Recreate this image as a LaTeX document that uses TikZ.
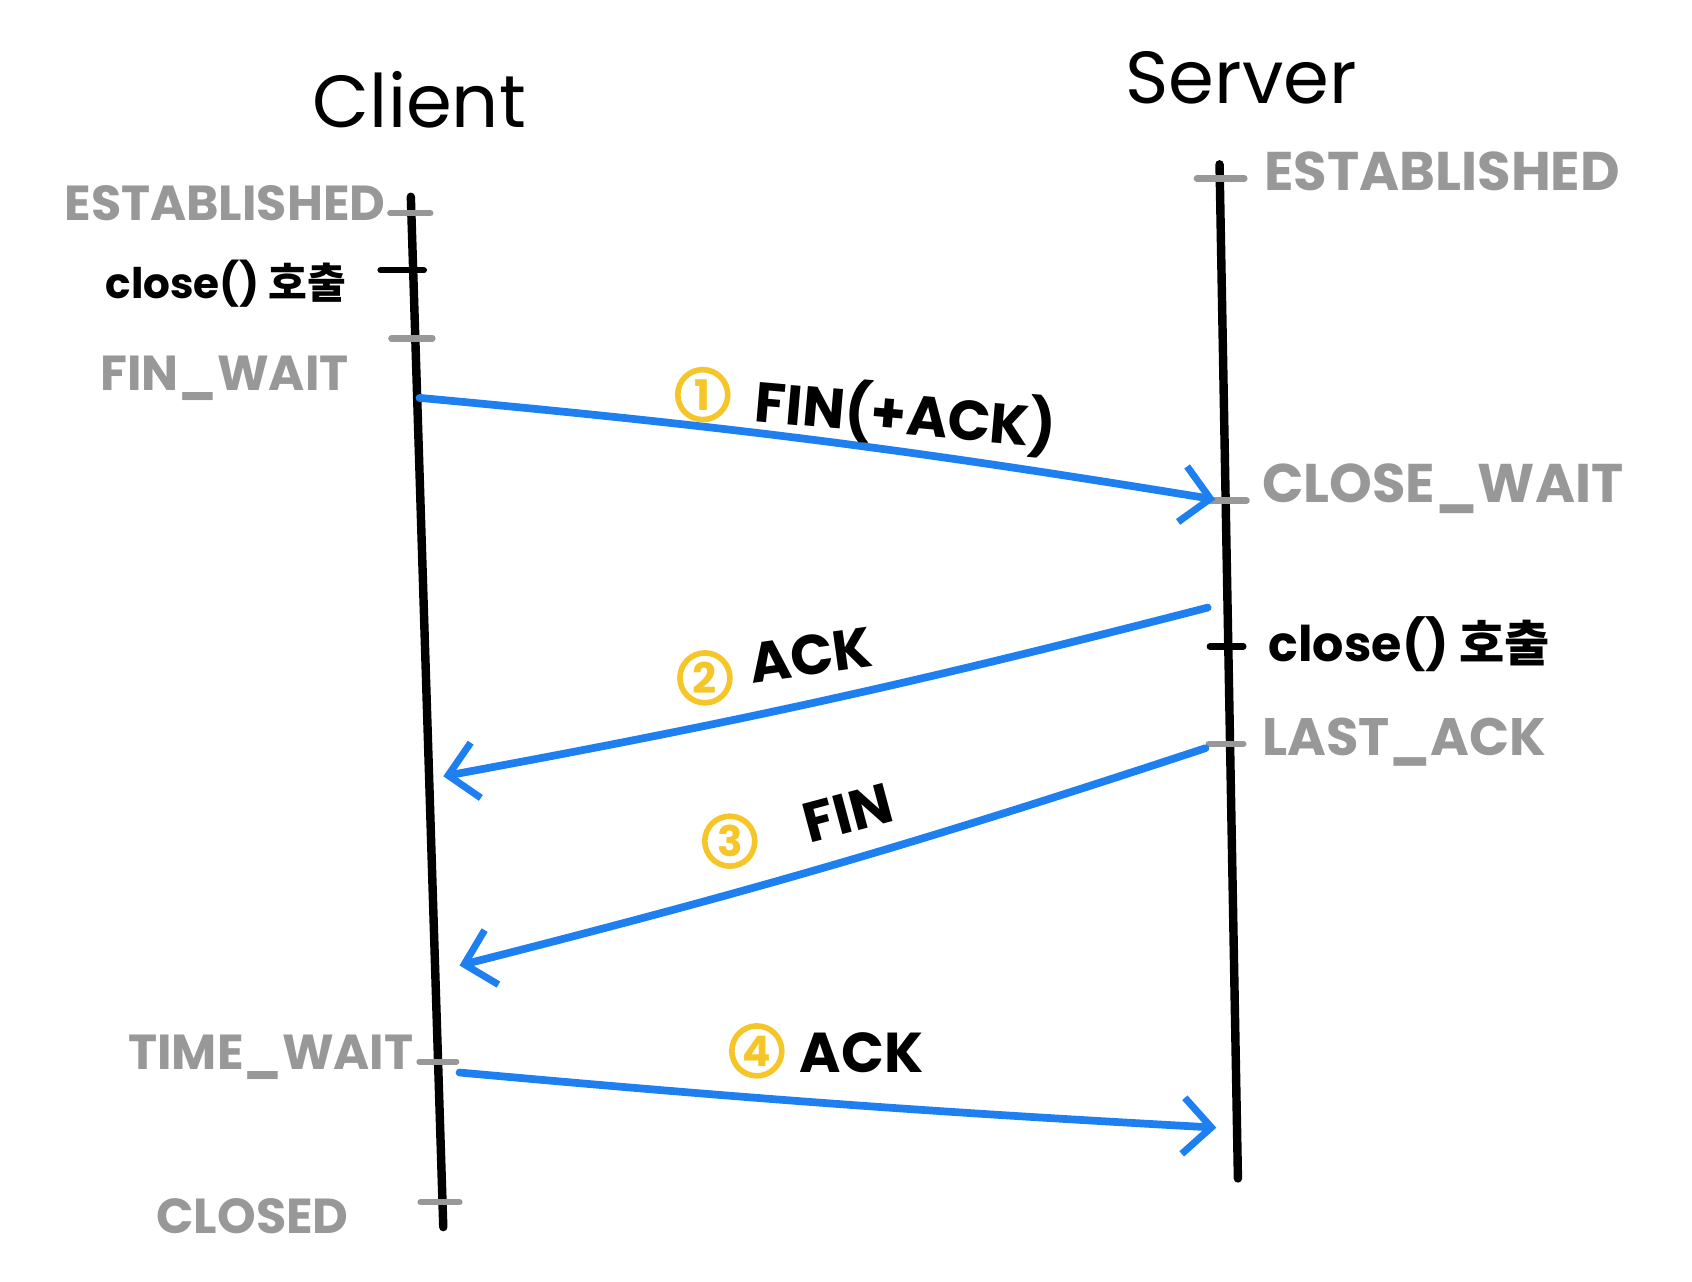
\documentclass[tikz,border=0pt]{standalone}
\usepackage{fontspec}
\setmainfont{Poppins}
\newfontfamily\krfont{Noto Sans CJK KR}
\usetikzlibrary{positioning,arrows.meta}
\definecolor{msgblue}{RGB}{30,128,240}
\definecolor{stategray}{RGB}{152,152,152}
\definecolor{numyellow}{RGB}{246,198,40}
\tikzset{
x=0.010812cm, y=-0.010812cm, % one unit is one pixel of the sketch
lifeline/.style={line width=2.4pt, line cap=round}, % the two time lines
statetick/.style={line width=1.8pt, line cap=round, stategray}, % state marks
calltick/.style={line width=1.8pt, line cap=round, black}, % close() marks
msg/.style={line width=2.2pt, line cap=round, msgblue, -{Straight Barb[length=8pt,width=16pt,line width=2pt]}}, % messages
host/.style={font=\fontsize{21}{25}\selectfont},
statelabel/.style={text=stategray, font=\fontsize{14}{16}\selectfont\bfseries},
calllabel/.style={font=\fontsize{13}{15}\selectfont\bfseries},
num/.style={circle, draw=numyellow, text=numyellow, line width=1.6pt, minimum size=0.5cm, inner sep=0pt, font=\fontsize{12}{14}\selectfont\bfseries},
msglabel/.style={font=\fontsize{16}{18}\selectfont\bfseries, inner sep=1pt},
}

\begin{document}
\begin{tikzpicture}
    \useasboundingbox (0,0) rectangle (1565,1185);

    % hosts and their time lines
    \node[host] (client) at (388,92) {Client};
    \node[host] (server) at (1148,72) {Server};
    \coordinate (cTop) at (380,182);
    \coordinate (cBot) at (410,1135);
    \coordinate (sTop) at (1128,152);
    \coordinate (sBot) at (1145,1090);
    \draw[lifeline] (cTop) -- (cBot);
    \draw[lifeline] (sTop) -- (sBot);

    % client states
    \coordinate (cEst) at (381,197);
    \coordinate (cClose) at (382,250);
    \coordinate (cFin) at (384,313);
    \coordinate (cTime) at (406,982);
    \coordinate (cClosed) at (409,1112);
    \draw[statetick] (cEst) +(-20,0) -- +(17,0);
    \draw[calltick] (cClose) +(-30,0) -- +(10,0);
    \draw[statetick] (cFin) +(-22,0) -- +(16,0);
    \draw[statetick] (cTime) +(-18,0) -- +(16,0);
    \draw[statetick] (cClosed) +(-20,0) -- +(16,0);
    \node[statelabel, anchor=south east] (cEstL) at (368,216) {ESTABLISHED};
    \node[calllabel, font=\fontsize{12}{14}\selectfont\bfseries, anchor=east] (cCloseL) at (332,262) {close() {\krfont 호출}};
    \node[statelabel, anchor=east] (cFinL) at (334,350) {FIN\_WAIT};
    \node[statelabel, anchor=east] (cTimeL) at (394,978) {TIME\_WAIT};
    \node[statelabel, anchor=east] (cClosedL) at (334,1125) {CLOSED};

    % server states
    \coordinate (sEst) at (1129,165);
    \coordinate (sCloseW) at (1133,463);
    \coordinate (sClose) at (1135,598);
    \coordinate (sLast) at (1136,688);
    \draw[statetick] (sEst) +(-22,0) -- +(22,0);
    \draw[statetick] (sCloseW) +(-18,0) -- +(20,0);
    \draw[calltick] (sClose) +(-16,0) -- +(15,0);
    \draw[statetick] (sLast) +(-18,0) -- +(14,0);
    \node[statelabel, font=\fontsize{15.5}{18}\selectfont\bfseries, anchor=west] (sEstL) at (1158,158) {ESTABLISHED};
    \node[statelabel, font=\fontsize{15.5}{18}\selectfont\bfseries, anchor=west] (sCloseWL) at (1156,452) {CLOSE\_WAIT};
    \node[calllabel, font=\fontsize{14}{16}\selectfont\bfseries, anchor=west] (sCloseL) at (1162,596) {close() {\krfont 호출}};
    \node[statelabel, font=\fontsize{15}{18}\selectfont\bfseries, anchor=west] (sLastL) at (1156,686) {LAST\_ACK};

    % message ends on the time lines
    \coordinate (m1a) at (388,368);
    \coordinate (m1b) at (1124,462);
    \coordinate (m2a) at (1117,562);
    \coordinate (m2b) at (410,718);
    \coordinate (m3a) at (1115,692);
    \coordinate (m3b) at (425,893);
    \coordinate (m4a) at (425,992);
    \coordinate (m4b) at (1125,1043);
    \draw[msg] (m1a) to[bend left=2] (m1b);
    \draw[msg] (m2a) to[bend left=2] (m2b);
    \draw[msg] (m3a) to[bend left=2] (m3b);
    \draw[msg] (m4a) to[bend right=1] (m4b);

    % message labels
    \node[num] (n1) at (650,365) {1};
    \node[msglabel, rotate=-5] (l1) at (838,384) {FIN(+ACK)};
    \node[num] (n2) at (652,627) {2};
    \node[msglabel, rotate=8] (l2) at (750,606) {ACK};
    \node[num] (n3) at (675,778) {3};
    \node[msglabel, rotate=15] (l3) at (784,752) {FIN};
    \node[num] (n4) at (700,972) {4};
    \node[msglabel] (l4) at (797,974) {ACK};
\end{tikzpicture}
\end{document}
